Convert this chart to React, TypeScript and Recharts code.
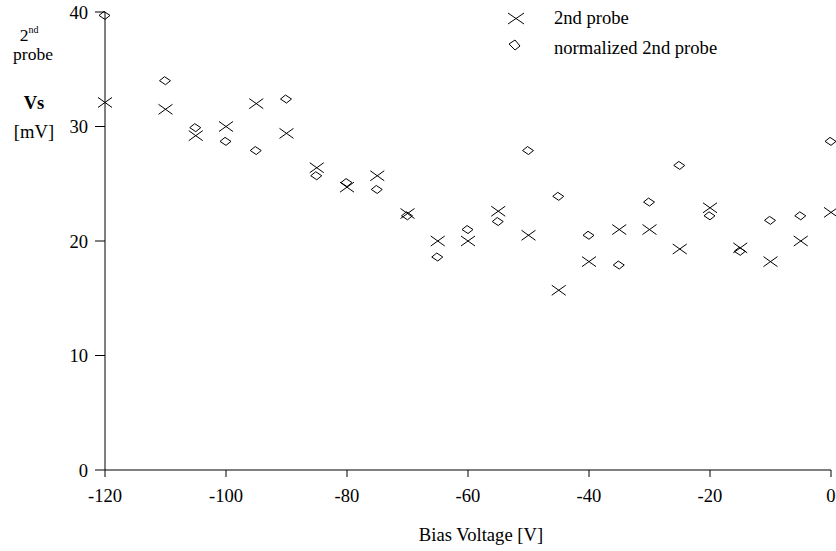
import React from "react";
import { ScatterChart, Scatter, XAxis, YAxis, Legend, Label } from "recharts";

const biasVoltage = [-120, -110, -105, -100, -95, -90, -85, -80, -75, -70, -65, -60, -55, -50, -45, -40, -35, -30, -25, -20, -15, -10, -5, 0];
const probe2 = [32.1, 31.5, 29.2, 30.0, 32.0, 29.4, 26.4, 24.7, 25.7, 22.4, 20.0, 20.0, 22.6, 20.5, 15.7, 18.2, 21.0, 21.0, 19.3, 22.9, 19.4, 18.2, 20.0, 22.5];
const normalized2 = [39.7, 34.0, 29.9, 28.7, 27.9, 32.4, 25.7, 25.1, 24.5, 22.2, 18.6, 21.0, 21.7, 27.9, 23.9, 20.5, 17.9, 23.4, 26.6, 22.2, 19.1, 21.8, 22.2, 28.7];
const xTicks = [-120, -100, -80, -60, -40, -20, 0];
const yTicks = [0, 10, 20, 30, 40];

const probeData = biasVoltage.map((v, i) => ({ x: v, y: probe2[i] }));
const normData = biasVoltage.map((v, i) => ({ x: v, y: normalized2[i] }));

const FONT = '"Liberation Serif", "Times New Roman", serif';

const CrossShape = (props: any) => {
  const { cx, cy } = props;
  if (cx == null || cy == null) return null;
  const w = 7, h = 5;
  return (
    <g>
      <line x1={cx - w} y1={cy - h} x2={cx + w} y2={cy + h} stroke="#000" strokeWidth={1} />
      <line x1={cx - w} y1={cy + h} x2={cx + w} y2={cy - h} stroke="#000" strokeWidth={1} />
    </g>
  );
};

const DiamondShape = (props: any) => {
  const { cx, cy } = props;
  if (cx == null || cy == null) return null;
  const pts = `${cx - 6},${cy} ${cx - 1},${cy - 4} ${cx + 5},${cy} ${cx},${cy + 4}`;
  return <polygon points={pts} fill="none" stroke="#000" strokeWidth={1} />;
};

const LegendContent = () => (
  <svg width={270} height={62} style={{ display: "block" }}>
    <g>
      <line x1={8} y1={13} x2={24} y2={24} stroke="#000" strokeWidth={1} />
      <line x1={8} y1={24} x2={24} y2={13} stroke="#000" strokeWidth={1} />
      <text x={54} y={24} fontFamily={FONT} fontSize={18.6} fill="#000">2nd probe</text>
    </g>
    <g>
      <polygon points="9,44 15,40 20,46 15,50" fill="none" stroke="#000" strokeWidth={1} />
      <text x={54} y={54} fontFamily={FONT} fontSize={18.6} fill="#000">normalized 2nd probe</text>
    </g>
  </svg>
);

const YTitle = () => (
  <g fontFamily={FONT} fill="#000">
    <text x={29} y={41} fontSize={17.5} textAnchor="middle">
      2<tspan fontSize={10} dy={-8}>nd</tspan>
    </text>
    <text x={33} y={60} fontSize={17.5} textAnchor="middle">probe</text>
    <text x={34} y={109} fontSize={18.6} textAnchor="middle" fontWeight="bold">Vs</text>
    <text x={34} y={138} fontSize={18.6} textAnchor="middle">[mV]</text>
  </g>
);

const XTitle = () => (
  <text x={481} y={541} fontFamily={FONT} fontSize={18.6} textAnchor="middle" fill="#000">
    Bias Voltage [V]
  </text>
);

export default function App() {
  return (
    <div style={{ position: "absolute", left: 0, top: 0, background: "#fff" }}>
      <ScatterChart width={836} height={551} margin={{ top: 12, right: 5, bottom: 51, left: 0 }}>
        <XAxis
          type="number"
          dataKey="x"
          domain={[-120, 0]}
          ticks={xTicks}
          height={30}
          tickSize={7}
          tickMargin={12}
          axisLine={{ stroke: "#000" }}
          tickLine={{ stroke: "#000" }}
          tick={{ fill: "#000", fontFamily: FONT, fontSize: 18.6 }}
          label={<Label content={XTitle} />}
        />
        <YAxis
          type="number"
          dataKey="y"
          domain={[0, 40]}
          ticks={yTicks}
          width={105}
          tickSize={10}
          tickMargin={7}
          axisLine={{ stroke: "#000" }}
          tickLine={{ stroke: "#000" }}
          tick={{ fill: "#000", fontFamily: FONT, fontSize: 18.6 }}
          label={<Label content={YTitle} />}
        />
        <Legend
          layout="vertical"
          align="center"
          verticalAlign="middle"
          content={LegendContent}
          wrapperStyle={{ position: "absolute", left: 500, top: 0, width: 270, height: 62 }}
        />
        <Scatter name="2nd probe" data={probeData} shape={CrossShape} isAnimationActive={false} />
        <Scatter name="normalized 2nd probe" data={normData} shape={DiamondShape} isAnimationActive={false} />
      </ScatterChart>
    </div>
  );
}
